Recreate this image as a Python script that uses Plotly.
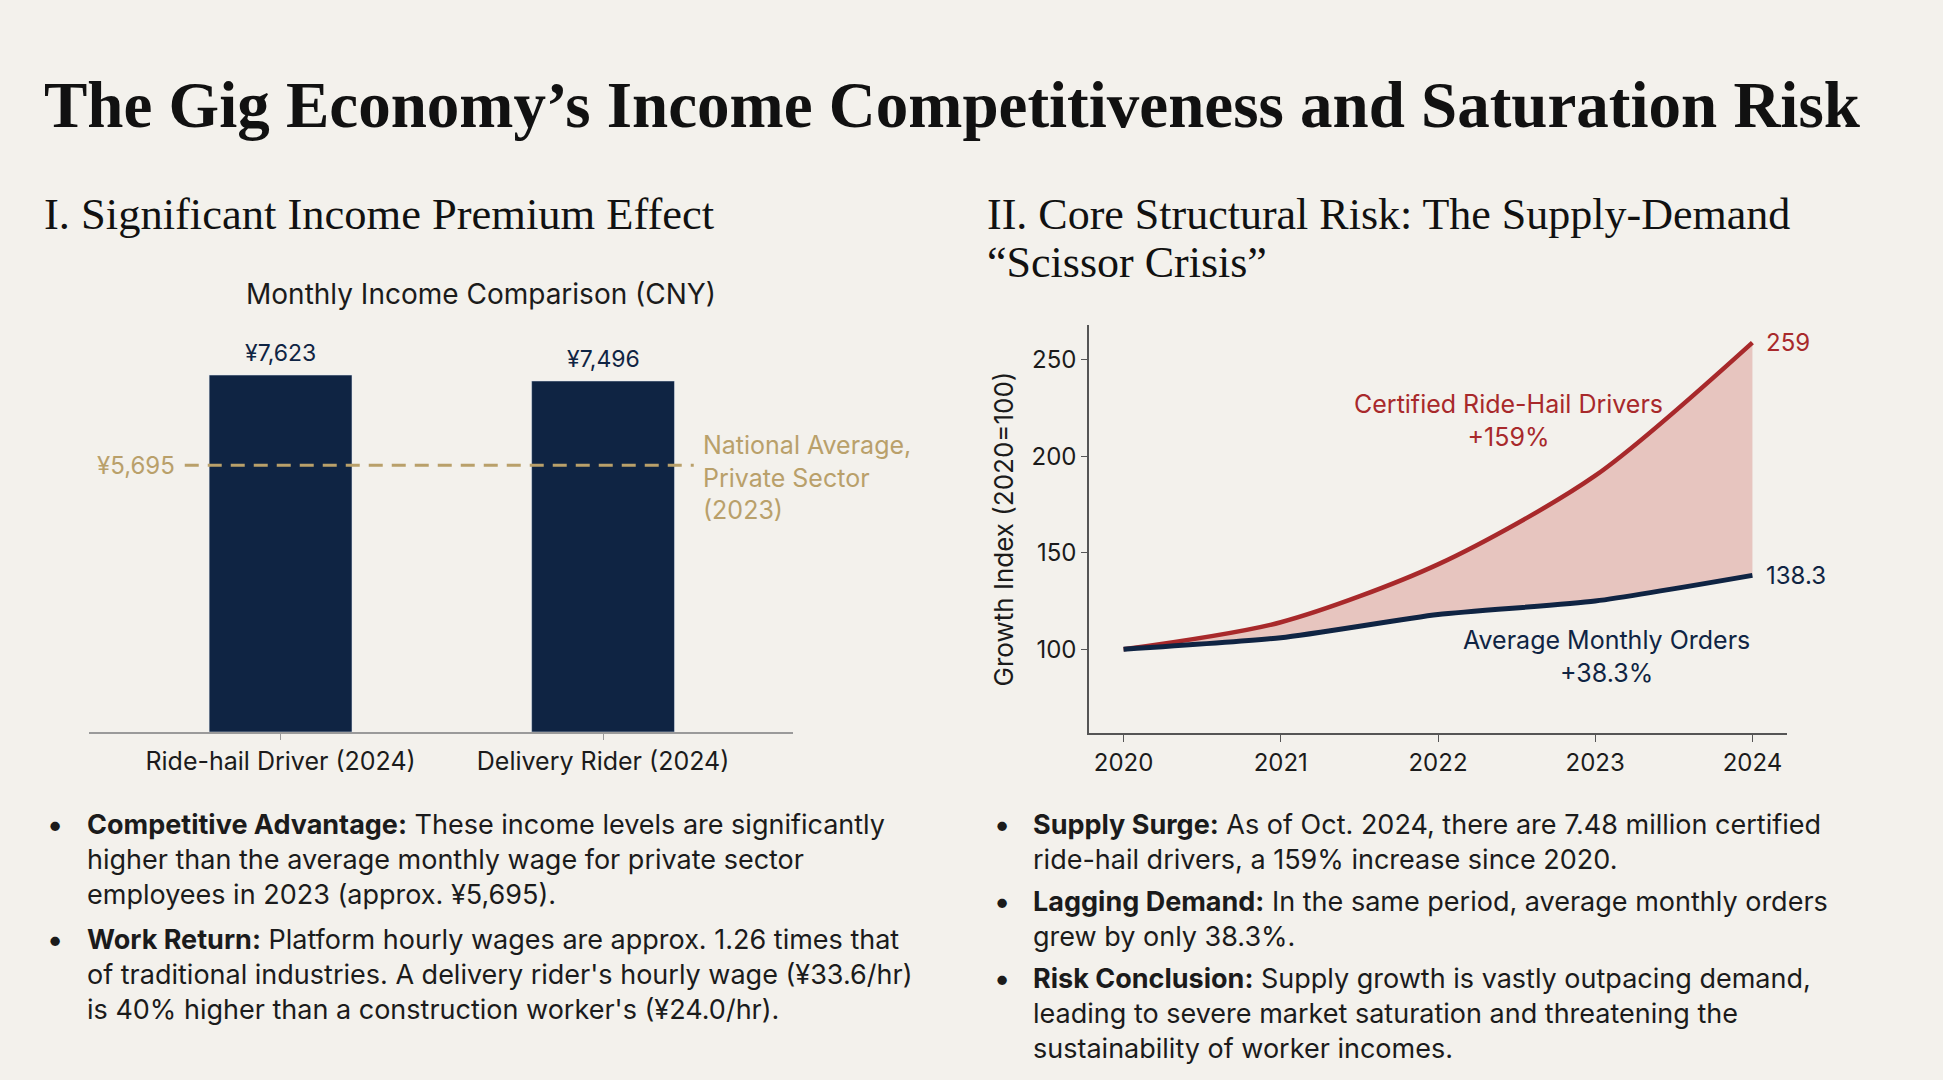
import plotly.graph_objects as go

# ---------------- data ----------------
income_categories = ["Ride-hail Driver (2024)", "Delivery Rider (2024)"]
income_values = [7623, 7496]
income_labels = ["¥7,623", "¥7,496"]
national_avg = 5695
national_avg_label = "¥5,695"

years = [2020, 2021, 2022, 2023, 2024]
drivers_index = [100, 114, 144, 190, 259]
orders_index = [100, 106, 118, 125, 138.3]
y_ticks = [100, 150, 200, 250]

W, H = 1943, 1080
BG = "#f3f1ec"
NAVY = "#0f2443"
RED = "#a8292b"
GOLD = "#b9a06a"
FILL = "rgba(205,110,100,0.33)"
SANS = "Inter, Roboto, Arial, sans-serif"
SERIF = "Liberation Serif, Times New Roman, serif"
TXT = "#1b1b1b"

def px(x):
    return x / W

def py(y):
    return 1 - y / H

fig = go.Figure()

# ---------------- bar chart ----------------
fig.add_trace(go.Bar(
    x=[0, 1], y=income_values, marker_color=NAVY, width=0.443,
    xaxis="x", yaxis="y", hoverinfo="skip", showlegend=False,
))

# ---------------- line chart ----------------
fig.add_trace(go.Scatter(
    x=years, y=orders_index, mode="lines", line=dict(width=0, shape="spline", smoothing=0.6),
    xaxis="x2", yaxis="y2", hoverinfo="skip", showlegend=False,
))
fig.add_trace(go.Scatter(
    x=years, y=drivers_index, mode="lines", line=dict(color=RED, width=4.5, shape="spline", smoothing=0.8),
    fill="tonexty", fillcolor=FILL,
    xaxis="x2", yaxis="y2", hoverinfo="skip", showlegend=False,
))
fig.add_trace(go.Scatter(
    x=years, y=orders_index, mode="lines", line=dict(color=NAVY, width=5, shape="spline", smoothing=0.6),
    xaxis="x2", yaxis="y2", hoverinfo="skip", showlegend=False,
))

annotations = []

def ann(text, x, y, size, color=TXT, family=SANS, xanchor="left", yanchor="middle", align="left", **kw):
    annotations.append(dict(text=text, x=x, y=y, xref=kw.pop("xref", "paper"), yref=kw.pop("yref", "paper"),
                            showarrow=False, xanchor=xanchor, yanchor=yanchor, align=align,
                            font=dict(size=size, color=color, family=family), **kw))

# Titles
ann("<b>The Gig Economy’s Income Competitiveness and Saturation Risk</b>", px(42), py(105), 65, color="#111111", family=SERIF)
ann("I. Significant Income Premium Effect", px(42), py(214), 44.5, color="#111111", family=SERIF)
ann("II. Core Structural Risk: The Supply-Demand", px(985), py(214), 44, color="#111111", family=SERIF)
ann("“Scissor Crisis”", px(985), py(263), 44, color="#111111", family=SERIF)
ann("Monthly Income Comparison (CNY)", px(481), py(294), 28, xanchor="center")

# Bar labels
for i, (v, lab) in enumerate(zip(income_values, income_labels)):
    ann(lab, i, v, 23, color=NAVY, xref="x", yref="y", xanchor="center", yanchor="bottom", yshift=6)

# National average line labels
ann(national_avg_label, 0.125, national_avg, 24, color=GOLD, xref="x domain", yref="y", xanchor="right")
ann("National Average,<br>Private Sector<br>(2023)", 0.87, national_avg, 25, color=GOLD, xref="x domain", yref="y",
    yshift=-12)

# Line-chart labels
ann(str(drivers_index[-1]), years[-1], drivers_index[-1], 24, color=RED, xref="x2", yref="y2", xshift=12)
ann(str(orders_index[-1]), years[-1], orders_index[-1], 24, color=NAVY, xref="x2", yref="y2", xshift=12)
ann("Certified Ride-Hail Drivers<br>+159%", 2022.446, 218.4, 25, color=RED, xref="x2", yref="y2", xanchor="center", align="center")
ann("Average Monthly Orders<br>+38.3%", 2023.07, 96.0, 25, color=NAVY, xref="x2", yref="y2", xanchor="center", align="center")

# Bullets
BS = 27
left_bullets = [
    ("<b>Competitive Advantage:</b> These income levels are significantly<br>higher than the average monthly wage for private sector<br>employees in 2023 (approx. ¥5,695).", 824, 3),
    ("<b>Work Return:</b> Platform hourly wages are approx. 1.26 times that<br>of traditional industries. A delivery rider's hourly wage (¥33.6/hr)<br>is 40% higher than a construction worker's (¥24.0/hr).", 939, 3),
]
right_bullets = [
    ("<b>Supply Surge:</b> As of Oct. 2024, there are 7.48 million certified<br>ride-hail drivers, a 159% increase since 2020.", 824, 2),
    ("<b>Lagging Demand:</b> In the same period, average monthly orders<br>grew by only 38.3%.", 901, 2),
    ("<b>Risk Conclusion:</b> Supply growth is vastly outpacing demand,<br>leading to severe market saturation and threatening the<br>sustainability of worker incomes.", 978, 3),
]
LS = 1.3 * BS
for txt, first, n in left_bullets:
    ann("<b>•</b>", px(46), py(first), 30)
    ann(txt, px(85), py(first + (n - 1) * LS / 2), BS)
for txt, first, n in right_bullets:
    ann("<b>•</b>", px(993), py(first), 30)
    ann(txt, px(1031), py(first + (n - 1) * LS / 2), BS)

shapes = [
    dict(type="line", xref="x domain", yref="y", x0=0.136, x1=0.859, y0=national_avg, y1=national_avg,
         line=dict(color=GOLD, width=3, dash="14px,9px")),
]

fig.update_layout(
    width=W, height=H, margin=dict(l=0, r=0, t=0, b=0),
    paper_bgcolor=BG, plot_bgcolor="rgba(0,0,0,0)",
    showlegend=False, annotations=annotations, shapes=shapes,
    xaxis=dict(domain=[px(89), px(793)], range=[-0.594, 1.589], tickvals=[0, 1], ticktext=income_categories,
               showline=True, linecolor="#9a9a9a", linewidth=2, ticks="outside", ticklen=6, tickcolor="#9a9a9a",
               showgrid=False, zeroline=False, tickfont=dict(size=25, color=TXT, family=SANS), fixedrange=True),
    yaxis=dict(domain=[py(732), py(329.3)], range=[0, 8600], visible=False, fixedrange=True),
    xaxis2=dict(domain=[px(1089), px(1787)], range=[2019.78, 2024.22], anchor="y2", tickvals=years,
                showline=True, linecolor="#555555", linewidth=1.5, ticks="outside", ticklen=7, tickcolor="#555555",
                showgrid=False, zeroline=False, tickfont=dict(size=24, color=TXT, family=SANS), fixedrange=True),
    yaxis2=dict(domain=[py(733), py(325)], range=[56.6, 268.1], anchor="x2", tickvals=y_ticks,
                showline=True, linecolor="#555555", linewidth=1.5, ticks="outside", ticklen=6, tickcolor="#555555",
                showgrid=False, zeroline=False, tickfont=dict(size=24, color=TXT, family=SANS),
                title=dict(text="Growth Index (2020=100)", font=dict(size=26, color=TXT, family=SANS), standoff=10),
                fixedrange=True),
)

fig.write_html("out.html", config={"displayModeBar": False})
